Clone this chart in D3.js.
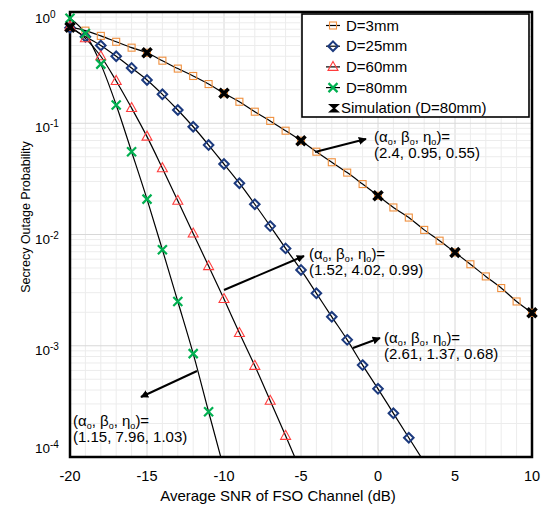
<!DOCTYPE html>
<html>
<head>
<meta charset="UTF-8">
<title>Secrecy Outage Probability</title>
<script src="https://cdn.jsdelivr.net/npm/d3@7"></script>
<style>
  body { margin: 0; background: #fff; }
  text { font-family: "Liberation Sans", Arial, sans-serif; fill: #000; }
</style>
</head>
<body>
<svg id="chart" width="545" height="510"></svg>
<script>
// ---- data ----
var snrDb = [-20, -19, -18, -17, -16, -15, -14, -13, -12, -11, -10, -9, -8, -7, -6, -5,
             -4, -3, -2, -1, 0, 1, 2, 3, 4, 5, 6, 7, 8, 9, 10];
var d3mm = [0.73, 0.68, 0.61, 0.54, 0.478, 0.43, 0.365, 0.31, 0.266, 0.225, 0.186, 0.156,
            0.127, 0.105, 0.0857, 0.0697, 0.0555, 0.0446, 0.036, 0.0284, 0.0223, 0.0175,
            0.0142, 0.011, 0.0088, 0.0069, 0.0054, 0.0042, 0.0033, 0.0025, 0.00198];
var d25mm = [0.72, 0.6, 0.5, 0.4, 0.314, 0.245, 0.182, 0.1316, 0.093, 0.0637, 0.043, 0.0289,
             0.0187, 0.0119, 0.0075, 0.0048, 0.00296, 0.00182, 0.00113, 0.00067, 0.00041,
             0.000247, 0.000149, 0.00009];
var d60mm = [0.74, 0.58, 0.4, 0.24, 0.137, 0.0758, 0.0394, 0.0201, 0.0102, 0.0052, 0.00263,
             0.0013, 0.00066, 0.00032, 0.000155, 0.000074];
var d80mm = [0.88, 0.64, 0.34, 0.146, 0.0555, 0.0208, 0.0073, 0.0025, 0.00085, 0.000255, 0.000078];
var simDb = [-20, -15, -10, -5, 0, 5, 10];
var simVal = [0.73, 0.43, 0.186, 0.0697, 0.0223, 0.0069, 0.00198];

var xTicks = [-20, -15, -10, -5, 0, 5, 10];
var yTickExp = [0, -1, -2, -3, -4];
var seriesNames = ['D=3mm', 'D=25mm', 'D=60mm', 'D=80mm'];

var series = [
  {name: seriesNames[0], values: d3mm, color: '#f0903e', shape: 'square'},
  {name: seriesNames[1], values: d25mm, color: '#1c3a7e', shape: 'diamond'},
  {name: seriesNames[2], values: d60mm, color: '#ff3c3c', shape: 'triangle'},
  {name: seriesNames[3], values: d80mm, color: '#00b050', shape: 'cross'}
];

var svg = d3.select('#chart');
var pLeft = 70, pRight = 532, pTop = 12, pBottom = 457;

var x = d3.scaleLinear().domain([-20, 10]).range([pLeft, pRight]);
var y = d3.scaleLog().domain([1e-4, 1]).range([pBottom, pTop]);

// grid
var grid = svg.append('g');
d3.range(-20, 11).forEach(function(v) {
  grid.append('line')
      .attr('x1', x(v)).attr('x2', x(v)).attr('y1', pTop).attr('y2', pBottom)
      .attr('stroke', v % 5 === 0 ? '#d8d8d8' : '#ececec').attr('stroke-width', 1);
});
yTickExp.forEach(function(e) {
  if (e > -4) {
    for (var m = 2; m <= 9; m++) {
      var yy = y(m * Math.pow(10, e - 1));
      grid.append('line').attr('x1', pLeft).attr('x2', pRight).attr('y1', yy).attr('y2', yy)
          .attr('stroke', '#ececec');
    }
  }
  grid.append('line').attr('x1', pLeft).attr('x2', pRight)
      .attr('y1', y(Math.pow(10, e))).attr('y2', y(Math.pow(10, e)))
      .attr('stroke', '#d8d8d8');
});

// frame
svg.append('rect').attr('x', pLeft).attr('y', pTop)
   .attr('width', pRight - pLeft).attr('height', pBottom - pTop)
   .attr('fill', 'none').attr('stroke', '#000').attr('stroke-width', 2.5);

// tick labels
svg.selectAll('.xt').data(xTicks).enter().append('text')
   .attr('x', function(d) { return x(d); }).attr('y', 481)
   .attr('text-anchor', 'middle').style('font-size', '14.5px')
   .text(function(d) { return d; });

var yt = svg.selectAll('.yt').data(yTickExp).enter().append('text')
   .attr('x', 35)
   .attr('y', function(d) { return Math.max(23, Math.min(453, y(Math.pow(10, d)) + 9)); })
   .style('font-size', '13.5px');
yt.append('tspan').text('10');
yt.append('tspan').attr('dy', -5).style('font-size', '10px').text(function(d) { return d; });

svg.append('text').attr('x', 278).attr('y', 501).attr('text-anchor', 'middle')
   .style('font-size', '15px').text('Average SNR of FSO Channel (dB)');
svg.append('text').attr('transform', 'translate(30,217) rotate(-90)')
   .attr('text-anchor', 'middle').style('font-size', '12.5px')
   .text('Secrecy Outage Probability');

// lines
svg.append('clipPath').attr('id', 'plotClip').append('rect')
   .attr('x', pLeft).attr('y', pTop).attr('width', pRight - pLeft).attr('height', pBottom - pTop);

var line = d3.line()
    .x(function(d) { return x(d[0]); })
    .y(function(d) { return y(d[1]); })
    .curve(d3.curveMonotoneX);

function pairs(vals) {
  return vals.map(function(v, i) { return [snrDb[i], v]; });
}

series.forEach(function(s) {
  svg.append('path').datum(pairs(s.values)).attr('d', line)
     .attr('clip-path', 'url(#plotClip)')
     .attr('fill', 'none').attr('stroke', '#000').attr('stroke-width', 1.2);
});

// markers
function drawMarker(g, shape, color, cx, cy) {
  if (shape === 'square') {
    g.append('rect').attr('x', cx - 3.5).attr('y', cy - 3.5).attr('width', 7).attr('height', 7)
     .attr('fill', 'none').attr('stroke', color).attr('stroke-width', 1.1);
  } else if (shape === 'diamond') {
    g.append('path').attr('d', 'M' + cx + ',' + (cy - 4.8) + 'L' + (cx + 4.8) + ',' + cy +
        'L' + cx + ',' + (cy + 4.8) + 'L' + (cx - 4.8) + ',' + cy + 'Z')
     .attr('fill', 'none').attr('stroke', color).attr('stroke-width', 2);
  } else if (shape === 'triangle') {
    g.append('path').attr('d', 'M' + cx + ',' + (cy - 5.5) + 'L' + (cx + 5) + ',' + (cy + 3.5) +
        'L' + (cx - 5) + ',' + (cy + 3.5) + 'Z')
     .attr('fill', 'none').attr('stroke', color).attr('stroke-width', 1.1);
  } else if (shape === 'cross') {
    g.append('path').attr('d', 'M' + (cx - 4.5) + ',' + (cy - 4.5) + 'L' + (cx + 4.5) + ',' + (cy + 4.5) +
        'M' + (cx - 4.5) + ',' + (cy + 4.5) + 'L' + (cx + 4.5) + ',' + (cy - 4.5))
     .attr('fill', 'none').attr('stroke', color).attr('stroke-width', 2.2);
  } else if (shape === 'sim') {
    g.append('path').attr('d', 'M' + (cx - 4.5) + ',' + (cy - 4.5) + 'L' + (cx + 4.5) + ',' + (cy + 4.5) +
        'M' + (cx - 4.5) + ',' + (cy + 4.5) + 'L' + (cx + 4.5) + ',' + (cy - 4.5))
     .attr('fill', 'none').attr('stroke', '#000').attr('stroke-width', 3.6);
  }
}

var marks = svg.append('g');
series.forEach(function(s) {
  s.values.forEach(function(v, i) {
    if (v >= 1e-4) drawMarker(marks, s.shape, s.color, x(snrDb[i]), y(v));
  });
});
simVal.forEach(function(v, i) { drawMarker(marks, 'sim', '#000', x(simDb[i]), y(v)); });

// annotations
svg.append('defs').append('marker').attr('id', 'arr')
   .attr('viewBox', '0 0 10 10').attr('refX', 9).attr('refY', 5)
   .attr('markerWidth', 4).attr('markerHeight', 4).attr('orient', 'auto')
   .append('path').attr('d', 'M0,0L10,5L0,10Z').attr('fill', '#000');

var notes = [
  {vals: '(2.4, 0.95, 0.55)', tx: 374, ty: 142, from: [315, 152], to: [366, 139]},
  {vals: '(1.52, 4.02, 0.99)', tx: 309, ty: 259, from: [224, 290], to: [304, 256]},
  {vals: '(2.61, 1.37, 0.68)', tx: 384, ty: 343, from: [353, 348], to: [380, 338]},
  {vals: '(1.15, 7.96, 1.03)', tx: 73, ty: 426, from: [197, 371], to: [141, 397]}
];
notes.forEach(function(n) {
  svg.append('line').attr('x1', n.from[0]).attr('y1', n.from[1])
     .attr('x2', n.to[0]).attr('y2', n.to[1])
     .attr('stroke', '#000').attr('stroke-width', 2).attr('marker-end', 'url(#arr)');
  var t = svg.append('text').attr('x', n.tx).attr('y', n.ty).style('font-size', '15px');
  var parts = ['(\u03b1', ', \u03b2', ', \u03b7', ')='];
  parts.forEach(function(p, i) {
    t.append('tspan').attr('dy', i === 0 ? 0 : -3).text(p);
    if (i < 3) t.append('tspan').attr('dy', 3).style('font-size', '9px').text('o');
  });
  svg.append('text').attr('x', n.tx).attr('y', n.ty + 15.5).style('font-size', '15px').text(n.vals);
});

// legend
var lg = svg.append('g');
lg.append('rect').attr('x', 302).attr('y', 14).attr('width', 227).attr('height', 103)
  .attr('fill', '#fff').attr('stroke', '#000').attr('stroke-width', 1.6);
var legendItems = series.map(function(s) { return s; })
    .concat([{name: 'Simulation (D=80mm)', shape: 'sim', color: '#000'}]);
legendItems.forEach(function(s, i) {
  var cy = 25.5 + i * 20.7;
  if (s.shape !== 'sim') {
    lg.append('line').attr('x1', 326).attr('x2', 340).attr('y1', cy).attr('y2', cy)
      .attr('stroke', '#000').attr('stroke-width', 1.2);
    drawMarker(lg, s.shape, s.color, 333, cy);
  } else {
    lg.append('path').attr('d', 'M330,' + (cy - 3.5) + 'L338,' + (cy - 3.5) + 'L330,' + (cy + 3.5) +
        'L338,' + (cy + 3.5) + 'Z').attr('fill', '#000').attr('stroke', '#000').attr('stroke-width', 1.5);
  }
  lg.append('text').attr('x', s.shape === 'sim' ? 341 : 346).attr('y', cy + 5)
    .style('font-size', '15px').text(s.name);
});
</script>
</body>
</html>
